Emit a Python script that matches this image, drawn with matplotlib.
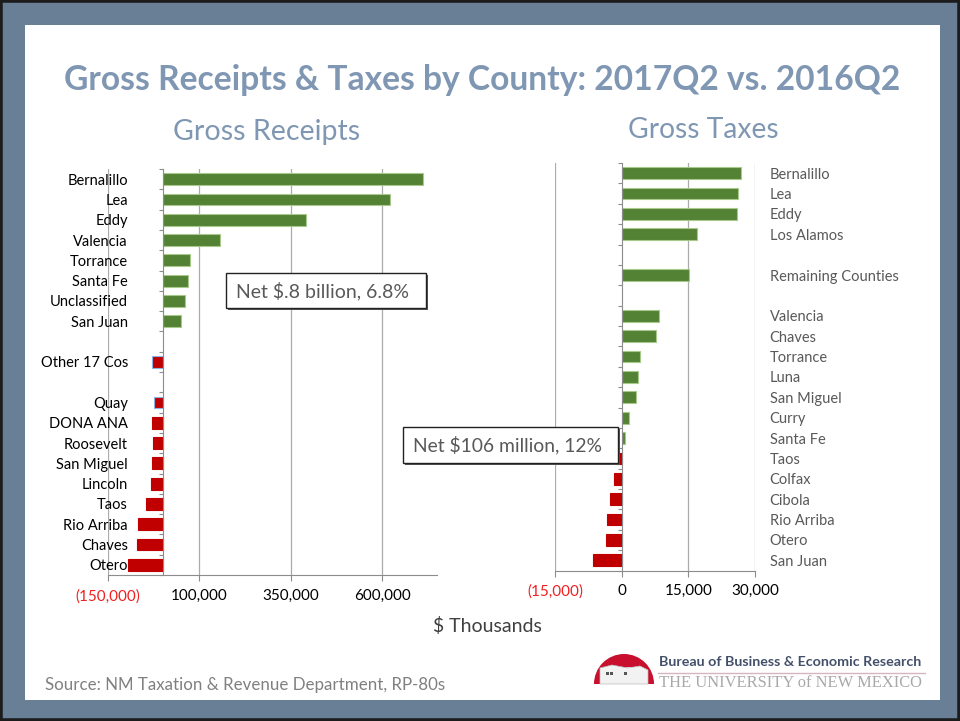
import matplotlib
matplotlib.use("Agg")
import matplotlib.pyplot as plt
from matplotlib.patches import Rectangle, Wedge, Polygon
from matplotlib.transforms import IdentityTransform
import numpy as np

plt.rcParams['font.family'] = ["Lato", "DejaVu Sans"]

# ---------------- data ----------------
title = "Gross Receipts & Taxes by County: 2017Q2 vs. 2016Q2"

gr_labels = ["Bernalillo", "Lea", "Eddy", "Valencia", "Torrance", "Santa Fe",
             "Unclassified", "San Juan", "", "Other 17 Cos", "", "Quay",
             "DONA ANA", "Roosevelt", "San Miguel", "Lincoln", "Taos",
             "Rio Arriba", "Chaves", "Otero"]
gr_values = [710000, 620000, 391000, 156000, 75000, 68000, 61000, 51000, None,
             -30000, None, -23000, -29000, -26000, -29000, -32000, -45000,
             -67000, -70000, -95000]
gr_ticks = [-150000, 100000, 350000, 600000]
gr_xlim = (-150000, 750000)

gt_labels = ["Bernalillo", "Lea", "Eddy", "Los Alamos", "", "Remaining Counties",
             "", "Valencia", "Chaves", "Torrance", "Luna", "San Miguel", "Curry",
             "Santa Fe", "Taos", "Colfax", "Cibola", "Rio Arriba", "Otero",
             "San Juan"]
gt_values = [26750, 26100, 25950, 16850, None, 15150, None, 8450, 7700, 4050,
             3750, 3200, 1550, 650, -1500, -1800, -2700, -3350, -3600, -6500]
gt_ticks = [-15000, 0, 15000, 30000]
gt_xlim = (-15000, 30000)

highlight = ["Other 17 Cos", "Quay"]

# ---------------- styling ----------------
W, H = 960, 721
BORDER = '#687F96'
TITLE_C = '#7F97B2'
GREEN = '#548235'
GREEN_EDGE = '#A9C98C'
RED = '#C00000'
GRID = '#ABABAB'
AXIS = '#8C8C8C'

fig = plt.figure(figsize=(9.6, 7.21), dpi=100)
fig.patch.set_facecolor(BORDER)


def fx(x):
    return x / W


def fy(y):
    return 1 - y / H


def rect_px(x0, y0, x1, y1, **kw):
    r = Rectangle((fx(x0), fy(y1)), fx(x1) - fx(x0), fy(y0) - fy(y1),
                  transform=fig.transFigure, **kw)
    fig.add_artist(r)
    return r


# frame and white panel
rect_px(0, 0, W, H, fill=False, edgecolor='#1c1c1c', linewidth=4, zorder=-5)
rect_px(25, 25, 940, 700, facecolor='white', edgecolor='none', zorder=-10)


def fmt(v):
    if v < 0:
        return "({:,})".format(-v)
    return "{:,}".format(v)


def draw_panel(ax, labels, values, ticks, xlim, label_side):
    n = len(labels)
    idx = [i for i, v in enumerate(values) if v is not None]
    vals = [values[i] for i in idx]
    colors = [GREEN if v >= 0 else RED for v in vals]
    edges = []
    for i, v in zip(idx, vals):
        if labels[i] in highlight:
            edges.append('#8DB3E2')
        elif v >= 0:
            edges.append(GREEN_EDGE)
        else:
            edges.append(RED)
    ax.barh(idx, vals, height=0.58, color=colors, edgecolor=edges,
            linewidth=0.8, zorder=3)
    ax.set_xlim(*xlim)
    ax.set_ylim(n - 0.5, -0.5)
    ax.set_facecolor('none')

    for s in ['top', 'right']:
        ax.spines[s].set_visible(False)
    ax.spines['left'].set_position(('data', 0))
    ax.spines['left'].set_color(AXIS)
    ax.spines['bottom'].set_color(AXIS)
    ax.spines['left'].set_zorder(4)

    ax.set_xticks(ticks)
    ax.set_xticklabels([fmt(t) for t in ticks])
    for lab, t in zip(ax.get_xticklabels(), ticks):
        lab.set_color('#F02020' if t < 0 else '#000000')
    ax.tick_params(axis='x', length=4, color=AXIS, pad=6, labelsize=11)
    for t in ticks:
        if t != 0:
            ax.axvline(t, color=GRID, linewidth=0.9, zorder=1)

    ax.set_yticks(np.arange(-0.5, n, 1))
    ax.set_yticklabels([])
    ax.tick_params(axis='y', which='major', length=3, color=AXIS,
                   direction='out')
    ax.set_yticks(np.arange(n), minor=True)
    ax.set_yticklabels(labels, minor=True)
    if label_side == 'left':
        ax.tick_params(axis='y', which='minor', length=0, pad=25,
                       labelsize=10.5, labelcolor='#000000')
    else:
        ax.tick_params(axis='y', which='minor', length=0, left=False,
                       labelleft=False, right=False, labelright=True,
                       pad=10.5, labelsize=10.5, labelcolor='#595959')


ax1 = fig.add_axes([fx(107.7), fy(575), fx(437.3) - fx(107.7),
                    fy(169) - fy(575)])
draw_panel(ax1, gr_labels, gr_values, gr_ticks, gr_xlim, 'left')

ax2 = fig.add_axes([fx(555), fy(570.5), fx(755) - fx(555),
                    fy(163) - fy(570.5)])
draw_panel(ax2, gt_labels, gt_values, gt_ticks, gt_xlim, 'right')

# titles
fig.text(fx(482.5), fy(89.5), title, ha='center', va='baseline',
         fontsize=24.2, fontweight='bold', color=TITLE_C)
fig.text(fx(267), fy(140), "Gross Receipts", ha='center', va='baseline',
         fontsize=20.6, color=TITLE_C)
fig.text(fx(703), fy(138), "Gross Taxes", ha='center', va='baseline',
         fontsize=20.3, color=TITLE_C)

# annotation boxes


def note(x0, y0, x1, y1, text, size):
    rect_px(x0 + 2, y0 + 2, x1 + 2, y1 + 2, facecolor='#555555',
            edgecolor='none', zorder=5)
    rect_px(x0, y0, x1, y1, facecolor='white', edgecolor='#222222',
            linewidth=1, zorder=6)
    fig.text(fx((x0 + x1) / 2 - 3), fy((y0 + y1) / 2), text, ha='center',
             va='center', fontsize=size, color='#595959', zorder=7)


note(225.7, 273.3, 426, 308.3, "Net $.8 billion, 6.8%", 14)
note(402.7, 426.7, 617.7, 462.7, "Net $106 million, 12%", 13.9)

fig.text(fx(487), fy(626), "$ Thousands", ha='center', va='center',
         fontsize=14, color='#404040')
fig.text(fx(45), fy(685), "Source: NM Taxation & Revenue Department, RP-80s",
         ha='left', va='center', fontsize=12.2, color='#808080')

# logo (pixel coordinates, origin bottom-left)
cx, cy, r = 624, H - 684, 30
fig.add_artist(Wedge((cx, cy), r, 0, 180, transform=IdentityTransform(),
                     facecolor='#C8102E', edgecolor='none'))
fig.add_artist(Wedge((cx + 6, cy), 17, 0, 180, transform=IdentityTransform(),
                     facecolor='white', edgecolor='none'))
bld = [(600, 684), (600, 668), (612, 665), (628, 668), (640, 666), (648, 670),
       (648, 684)]
fig.add_artist(Polygon([(fx(x), fy(y)) for x, y in bld], closed=True,
                       transform=fig.transFigure, facecolor='#F2F2F2',
                       edgecolor='#BBBBBB', linewidth=0.5))
for wx in (606, 610, 624):
    rect_px(wx, 672, wx + 2.5, 675, facecolor='#555555', edgecolor='none')
fig.text(fx(659), fy(661.5), "Bureau of Business & Economic Research",
         ha='left', va='center', fontsize=10.3, fontweight='bold',
         color='#44506A')
fig.add_artist(plt.Line2D([fx(658), fx(925)], [fy(673), fy(673)],
                          transform=fig.transFigure, color='#D7B5BE',
                          linewidth=1))
fig.text(fx(659), fy(683), "THE UNIVERSITY of NEW MEXICO", ha='left',
         va='center', fontsize=11.9, color='#A8A8A8',
         family=['Liberation Serif', 'DejaVu Serif'])

fig.savefig("out.png", dpi=100, facecolor=fig.get_facecolor())
